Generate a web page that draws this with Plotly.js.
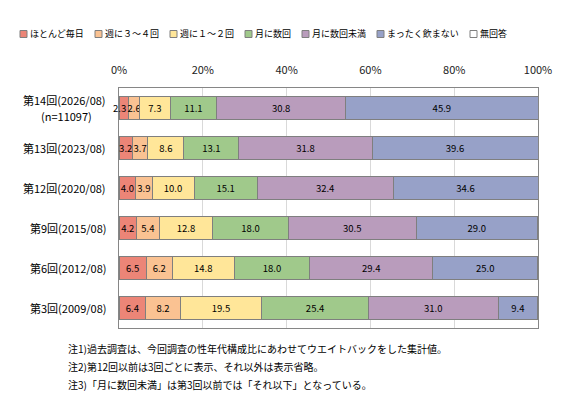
<!DOCTYPE html>
<html>
<head>
<meta charset="utf-8">
<script src="https://cdn.plot.ly/plotly-3.0.1.min.js"></script>
<style>
html,body{margin:0;padding:0;background:#fff;}
#chart{width:573px;height:409px;}
</style>
</head>
<body>
<div id="chart"></div>
<script>
// ---- data ----
const categories = ["第14回(2026/08)", "第13回(2023/08)", "第12回(2020/08)", "第9回(2015/08)", "第6回(2012/08)", "第3回(2009/08)"];
const categoryNotes = ["(n=11097)", "", "", "", "", ""];
const seriesNames = ["ほとんど毎日", "週に３～４回", "週に１～２回", "月に数回", "月に数回未満", "まったく飲まない", "無回答"];
const almostDaily   = [2.3, 3.2, 4.0, 4.2, 6.5, 6.4];
const threeFourWeek = [2.6, 3.7, 3.9, 5.4, 6.2, 8.2];
const oneTwoWeek    = [7.3, 8.6, 10.0, 12.8, 14.8, 19.5];
const fewMonth      = [11.1, 13.1, 15.1, 18.0, 18.0, 25.4];
const lessMonth     = [30.8, 31.8, 32.4, 30.5, 29.4, 31.0];
const never         = [45.9, 39.6, 34.6, 29.0, 25.0, 9.4];
const noAnswer      = [0, 0, 0, 0.1, 0.1, 0.1];
const tickValues = [0, 20, 40, 60, 80, 100];
const tickLabels = ["0%", "20%", "40%", "60%", "80%", "100%"];
const notes = [
  "注1)過去調査は、今回調査の性年代構成比にあわせてウエイトバックをした集計値。",
  "注2)第12回以前は3回ごとに表示、それ以外は表示省略。",
  "注3)「月に数回未満」は第3回以前では「それ以下」となっている。"
];

// ---- styles ----
const colors = ["#EC8577", "#FAC292", "#FFE699", "#A0C98B", "#B99CBC", "#97A1C8", "#FFFFFF"];
const FONT = "Noto Sans CJK JP, Noto Sans, sans-serif";
const W = 573, H = 409, L = 119, R = 35, T = 88, B = 81;
const pw = W - L - R, ph = H - T - B;
const px2x = p => (p - L) / pw;
const py2y = p => (H - B - p) / ph;
const MIN_INSIDE = 3; // segments narrower than this get their label moved to the bar start

const values = [almostDaily, threeFourWeek, oneTwoWeek, fewMonth, lessMonth, never, noAnswer];
const annotations = [];
const traces = values.map((v, i) => {
  const hasText = i < 6;
  const txt = hasText ? v.map(d => (i === 0 && d < MIN_INSIDE) ? "" : d.toFixed(1)) : undefined;
  if (i === 0) {
    v.forEach((d, k) => {
      if (d < MIN_INSIDE) {
        annotations.push({
          xref: "x", yref: "y", x: 0, y: categories[k], xanchor: "center", yanchor: "middle",
          text: d.toFixed(1), showarrow: false,
          font: {family: FONT, size: 9.5, color: "#000"}
        });
      }
    });
  }
  return {
    type: "bar",
    orientation: "h",
    name: seriesNames[i],
    x: v,
    y: categories,
    marker: {color: colors[i], line: {color: "#7F7F7F", width: 1}},
    text: txt,
    textposition: hasText ? "inside" : "none",
    insidetextanchor: "middle",
    constraintext: "none",
    textangle: 0,
    textfont: {family: FONT, size: 9.5, color: "#000"},
    cliponaxis: false,
    hoverinfo: "x+name",
    showlegend: false
  };
});

// y category labels (second line, if any, centred under the first)
categories.forEach((c, i) => {
  const two = !!categoryNotes[i];
  annotations.push({
    xref: "paper", yref: "y", x: 0, y: c, xshift: -11, yshift: two ? 8 : 0,
    xanchor: "right", yanchor: "middle",
    text: c, showarrow: false,
    font: {family: FONT, size: 11, color: "#000"}
  });
  if (two) {
    annotations.push({
      xref: "paper", yref: "y", x: px2x(66), y: c, yshift: -8,
      xanchor: "center", yanchor: "middle",
      text: categoryNotes[i], showarrow: false,
      font: {family: FONT, size: 11, color: "#000"}
    });
  }
});
// notes
const noteY = [348, 366, 384];
notes.forEach((n, i) => {
  annotations.push({
    xref: "paper", yref: "paper", x: px2x(66), y: py2y(noteY[i]),
    xanchor: "left", yanchor: "middle", text: n, showarrow: false,
    font: {family: FONT, size: 10, color: "#000"}
  });
});
// custom legend
const legX = [20, 95, 170, 245, 302, 377, 470];
const legY = 34;
const shapes = [];
seriesNames.forEach((n, i) => {
  shapes.push({
    type: "rect", xref: "paper", yref: "paper",
    x0: px2x(legX[i]), x1: px2x(legX[i] + 7),
    y0: py2y(legY + 3.5), y1: py2y(legY - 3.5),
    fillcolor: colors[i], line: {color: "#7F7F7F", width: 1}
  });
  annotations.push({
    xref: "paper", yref: "paper", x: px2x(legX[i] + 8), y: py2y(legY),
    xanchor: "left", yanchor: "middle", text: n, showarrow: false,
    font: {family: FONT, size: 9, color: "#000"}
  });
});

const layout = {
  width: W, height: H,
  margin: {l: L, r: R, t: T, b: B, pad: 0},
  paper_bgcolor: "#fff", plot_bgcolor: "#fff",
  barmode: "stack",
  bargap: 0.43,
  showlegend: false,
  xaxis: {
    side: "top", range: [0, 100], tickvals: tickValues, ticktext: tickLabels,
    showgrid: true, gridcolor: "#D9D9D9", gridwidth: 1,
    showline: true, linecolor: "#868686", linewidth: 1, mirror: true,
    zeroline: false, ticks: "", ticklabelstandoff: 9,
    tickfont: {family: FONT, size: 11, color: "#222"},
    fixedrange: true
  },
  yaxis: {
    type: "category", categoryorder: "array", categoryarray: categories,
    autorange: "reversed", showticklabels: false, ticks: "",
    showline: true, linecolor: "#868686", linewidth: 1, mirror: true,
    showgrid: false, zeroline: false, fixedrange: true
  },
  annotations: annotations,
  shapes: shapes
};

Plotly.newPlot("chart", traces, layout, {displayModeBar: false, staticPlot: true});
</script>
</body>
</html>
